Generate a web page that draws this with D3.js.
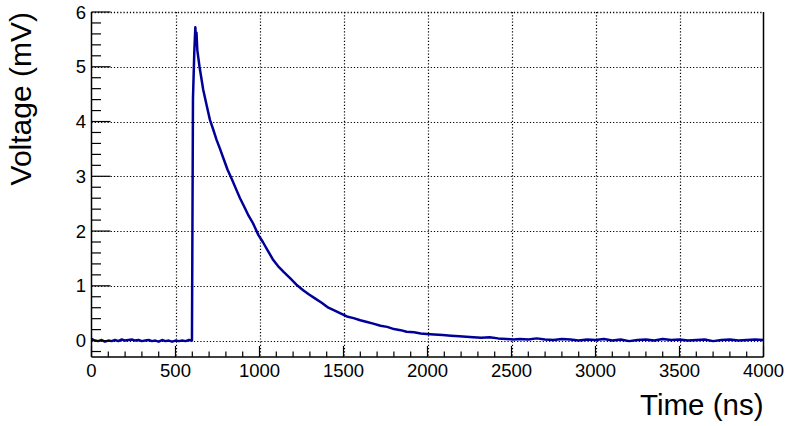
<!DOCTYPE html>
<html><head><meta charset="utf-8">
<script src="https://cdn.jsdelivr.net/npm/d3@7"></script>
<style>html,body{margin:0;padding:0;background:#fff;}svg{display:block;}text{font-family:"Liberation Sans",Arial,Helvetica,sans-serif;fill:#000;}</style>
</head><body><svg id="c" width="787" height="426"></svg>
<script>
// ---- data ----
const times = [0,20,40,60,80,100,120,140,160,180,200,220,240,260,280,300,320,340,360,380,400,420,440,460,480,500,520,540,560,580,598,
604,612,618,622,625,630,643,665,685,705,725,745,765,785,810,835,860,884,910,935,960,993,1020,1050,1082,1110,1145,1182,1220,1260,1295,1330,1370,1410,1445,1479,1520,1560,1600,1640,1677,1720,1760,1800,1840,1876,1920,1960,1995,2040,2090,2140,2190,2230,2273,2320,2370,2420,2470,2511,
2550,2600,2650,2700,2750,2800,2850,2900,2950,3000,3050,3100,3150,3200,3250,3300,3350,3400,3450,3500,3550,3600,3650,3700,3750,3800,3850,3900,3950,4000];
const volts = [0.03,0.0,-0.01,0.01,-0.02,0.0,-0.01,0.01,-0.01,0.02,0.0,0.01,0.02,0.0,0.01,-0.01,0.0,0.01,-0.01,0.0,-0.02,0.01,-0.01,0.0,-0.02,0.0,-0.01,0.0,-0.01,0.01,0.0,
4.42,5.28,5.72,5.50,5.62,5.30,5.00,4.58,4.30,4.03,3.85,3.66,3.50,3.33,3.12,2.95,2.77,2.60,2.44,2.28,2.15,1.93,1.80,1.64,1.47,1.36,1.25,1.14,1.02,0.92,0.84,0.77,0.69,0.60,0.55,0.50,0.44,0.41,0.37,0.34,0.31,0.27,0.25,0.21,0.19,0.16,0.15,0.13,0.12,0.11,0.10,0.09,0.08,0.07,0.06,0.05,0.06,0.04,0.03,0.02,
0.03,0.02,0.04,0.02,0.01,0.03,0.02,0.0,0.02,0.01,0.03,0.0,0.02,-0.01,0.01,0.02,0.0,0.03,0.01,0.02,0.0,0.01,0.02,-0.01,0.01,0.02,0.0,0.01,0.02,0.01];
const xTicks = [0,500,1000,1500,2000,2500,3000,3500,4000];
const xTickLabels = ["0","500","1000","1500","2000","2500","3000","3500","4000"];
const yTicks = [0,1,2,3,4,5,6];
const yTickLabels = ["0","1","2","3","4","5","6"];
const xTitle = "Time (ns)";
const yTitle = "Voltage (mV)";

// ---- layout ----
const L = 91.5, R = 763.5, T = 12, B = 357;
const svg = d3.select("#c");
const x = d3.scaleLinear().domain([0,4000]).range([L,R]);
const y = d3.scaleLinear().domain([-0.3,6]).range([B,T]);

// grid
const g = svg.append("g");
g.selectAll(".gx").data(xTicks.slice(1,-1)).enter().append("line")
  .attr("x1",d=>Math.round(x(d))+0.5).attr("x2",d=>Math.round(x(d))+0.5)
  .attr("y1",T).attr("y2",B).attr("stroke","#000").attr("stroke-width",1.2).attr("stroke-dasharray","1.2,2");
g.selectAll(".gy").data(yTicks).enter().append("line")
  .attr("x1",L).attr("x2",R)
  .attr("y1",d=>Math.round(y(d))+0.5).attr("y2",d=>Math.round(y(d))+0.5)
  .attr("stroke","#000").attr("stroke-width",d=>d===6?1.6:1.2).attr("stroke-dasharray","1.2,2");

// curve
const pts = times.map((t,i)=>[t,volts[i]]);
svg.append("path").datum(pts)
  .attr("d", d3.line().x(d=>x(d[0])).y(d=>y(d[1])))
  .attr("fill","none").attr("stroke","#000099").attr("stroke-width",2.5).attr("stroke-linejoin","round");

// frame lines: left, bottom, right
svg.append("line").attr("x1",L).attr("x2",L).attr("y1",T).attr("y2",B).attr("stroke","#000").attr("stroke-width",1.5);
svg.append("line").attr("x1",L).attr("x2",R).attr("y1",B).attr("y2",B).attr("stroke","#000").attr("stroke-width",1.5);
svg.append("line").attr("x1",R).attr("x2",R).attr("y1",T).attr("y2",B).attr("stroke","#000").attr("stroke-width",1.5);

// x ticks (inward)
const xMinor = d3.range(0,4001,100);
svg.selectAll(".xt").data(xMinor).enter().append("line")
  .attr("x1",d=>x(d)).attr("x2",d=>x(d))
  .attr("y1",B).attr("y2",d=>B-(d%500===0?11:5.5))
  .attr("stroke","#000").attr("stroke-width",1.2);
// y ticks (inward)
const yMinor = d3.range(-2,61,2).map(v=>v/10);
svg.selectAll(".yt").data(yMinor).enter().append("line")
  .attr("x1",L).attr("x2",d=>L+(Math.abs(d-Math.round(d))<1e-6?19:9.5))
  .attr("y1",d=>y(d)).attr("y2",d=>y(d))
  .attr("stroke","#000").attr("stroke-width",1.2);

// tick labels
svg.selectAll(".xl").data(xTicks).enter().append("text")
  .attr("x",d=>x(d)).attr("y",377).attr("text-anchor","middle")
  .attr("font-size","18.5px").text((d,i)=>xTickLabels[i]);
svg.selectAll(".yl").data(yTicks).enter().append("text")
  .attr("x",86).attr("y",d=>y(d)+6.5).attr("text-anchor","end")
  .attr("font-size","18.5px").text((d,i)=>yTickLabels[i]);

// axis titles
svg.append("text").attr("x",R).attr("y",415).attr("text-anchor","end")
  .attr("font-size","29.5px").text(xTitle);
svg.append("text").attr("transform",`translate(31,${T}) rotate(-90)`).attr("text-anchor","end")
  .attr("font-size","30px").text(yTitle);
</script></body></html>
